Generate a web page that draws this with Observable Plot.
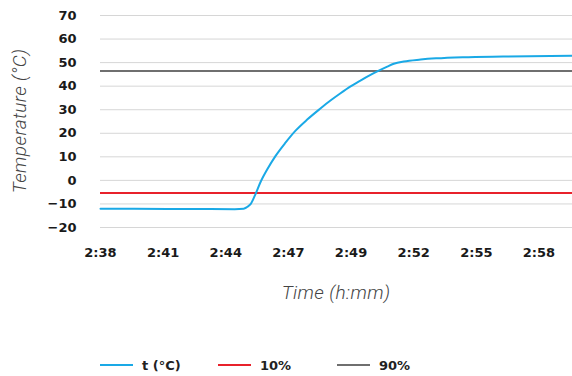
<!DOCTYPE html>
<html><head><meta charset="utf-8">
<script src="https://cdn.jsdelivr.net/npm/d3@7"></script>
<script src="https://cdn.jsdelivr.net/npm/@observablehq/plot@0.6"></script>
<style>
body{margin:0;background:#fff;font-family:"DejaVu Sans",sans-serif;}
#legend{position:relative;width:572px;height:36px;}
.item{position:absolute;top:7px;height:36px;display:flex;align-items:center;font-weight:bold;font-size:13px;color:#222;}
.sw{display:inline-block;width:33px;height:2px;margin-right:9px;}
</style></head><body>
<div id="chart"></div>
<div id="legend"></div>
<script>
// minutes since 2:38
const minutes = [0, 3, 6, 6.4, 6.55, 6.71, 6.93, 7.15, 7.45, 7.82, 8.27, 8.72, 9.24, 9.83, 10.28, 10.73, 11.18, 11.62, 12.07, 12.44, 12.82, 13.11, 13.56, 14.31, 15.0, 16.2, 18.0, 21.1];
const temps   = [-12.0, -12.1, -12.2, -12.0, -11.3, -10.1, -5.8, -0.8, 4.6, 10.3, 16.0, 21.1, 25.8, 30.5, 33.9, 37.0, 39.9, 42.4, 44.8, 46.6, 48.3, 49.5, 50.5, 51.3, 51.8, 52.3, 52.6, 52.9];
const threshold10 = -5.4;
const threshold90 = 46.4;
const xTickMinutes = [0, 2.8, 5.6, 8.4, 11.2, 14.0, 16.8, 19.6];
const xTickLabels = ["2:38", "2:41", "2:44", "2:47", "2:49", "2:52", "2:55", "2:58"];
const yTicks = [-20, -10, 0, 10, 20, 30, 40, 50, 60, 70];
const legendLabels = ["t (°C)", "10%", "90%"];
const legendColors = ["#1aa9e6", "#e8212b", "#6f6f6f"];

const data = minutes.map((m, i) => ({m, t: temps[i]}));

const chart = Plot.plot({
  width: 572, height: 340,
  marginLeft: 100, marginRight: 0, marginTop: 15, marginBottom: 113,
  style: {fontFamily: "DejaVu Sans, sans-serif", fontSize: "13px", color: "#1a1a1a", background: "#fff"},
  x: {domain: [0, 21.1]},
  y: {domain: [-20, 70]},
  marks: [
    Plot.gridY(yTicks, {stroke: "#d6d6d6", strokeOpacity: 1, strokeWidth: 1}),
    Plot.ruleY([threshold10], {stroke: legendColors[1], strokeWidth: 2}),
    Plot.ruleY([threshold90], {stroke: legendColors[2], strokeWidth: 2}),
    Plot.line(data, {x: "m", y: "t", stroke: legendColors[0], strokeWidth: 2, curve: "monotone-x"}),
    Plot.axisY({ticks: yTicks, tickSize: 0, tickPadding: 24, label: null, fontWeight: "bold"}),
    Plot.axisX({ticks: xTickMinutes, tickFormat: (d, i) => xTickLabels[i], tickSize: 0, tickPadding: 20, label: null, fontWeight: "bold"})
  ]
});
document.getElementById("chart").append(chart);

const svg = d3.select(chart);
svg.append("text").text("Temperature (°C)")
  .attr("transform", "translate(26,121) rotate(-90)")
  .attr("text-anchor", "middle")
  .style("font-family", "Roboto, sans-serif").style("font-style", "italic").style("font-weight", 300)
  .style("font-size", "19px").style("letter-spacing", "0.4px").attr("fill", "#444");
svg.append("text").text("Time (h:mm)")
  .attr("x", 336).attr("y", 299)
  .attr("text-anchor", "middle")
  .style("font-family", "Roboto, sans-serif").style("font-style", "italic").style("font-weight", 300)
  .style("font-size", "19px").style("letter-spacing", "0.4px").attr("fill", "#444");

const lefts = [100, 218, 337];
const legend = d3.select("#legend");
legendLabels.forEach((lab, i) => {
  const it = legend.append("div").attr("class", "item").style("left", lefts[i] + "px");
  it.append("span").attr("class", "sw").style("background", legendColors[i]);
  it.append("span").text(lab);
});
</script>
</body></html>
